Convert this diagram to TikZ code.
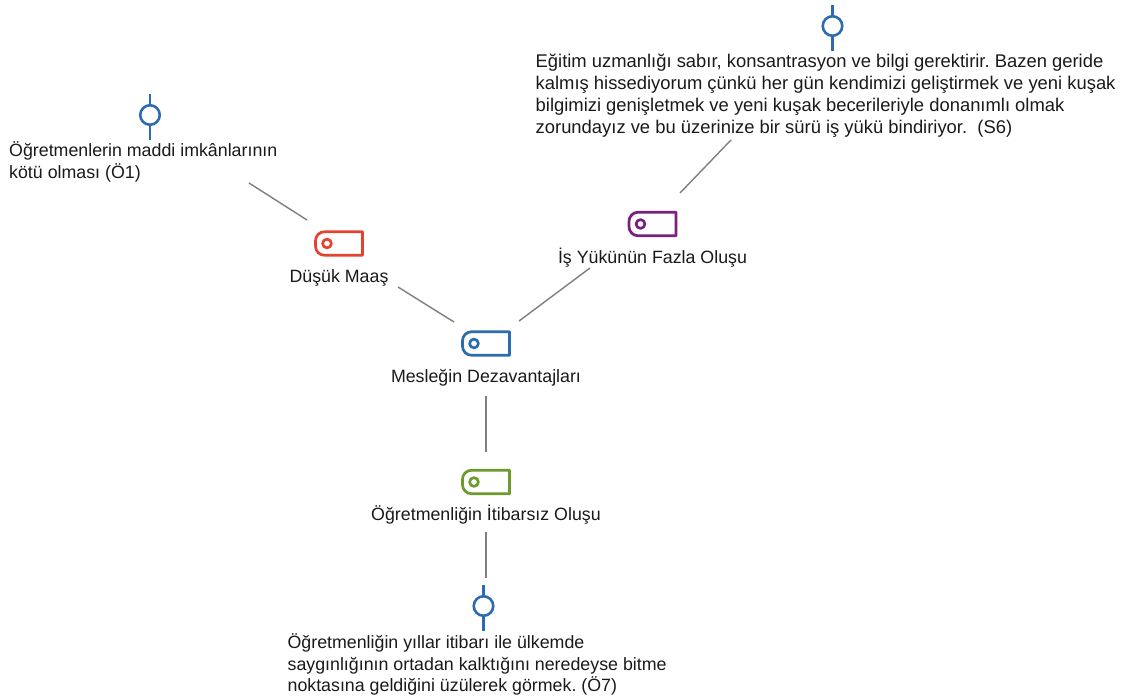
\documentclass[tikz,border=0pt]{standalone}
\usepackage{fontspec}
\setmainfont{Liberation Sans}
\usetikzlibrary{calc}
\frenchspacing

\definecolor{ink}{HTML}{1A1A1A}
\definecolor{linkgray}{HTML}{7F7F7F}
\definecolor{qblue}{HTML}{2D6BB0}
\definecolor{codeRed}{HTML}{E4432F}
\definecolor{codePurple}{HTML}{7A1F7E}
\definecolor{codeBlue}{HTML}{2D6BB0}
\definecolor{codeGreen}{HTML}{6A9B2C}

% code tag: rectangle with rounded left end and a small hole
\newcommand\drawtag[2]{%
  \draw[tagpath=#2] (#1.north east) -- (#1.south east)
    -- ([xshift=9pt]#1.south west) arc[start angle=270,end angle=180,radius=9pt]
    -- ([yshift=-9pt]#1.north west) arc[start angle=180,end angle=90,radius=9pt]
    -- cycle;
  \draw[tagpath=#2] ([xshift=-12pt]#1.center) circle[radius=4.4pt];}

% quote marker: ring with a stem above and below
\newcommand\drawstems[1]{%
  \draw[qstem] (#1.north) -- ++(0,-11);
  \draw[qstem] (#1.south) -- ++(0,15);}

\begin{document}
\begin{tikzpicture}[x=1pt,y=-1pt,
  txt/.style={inner sep=0pt, text=ink, font=\fontsize{17.8}{21.8}\selectfont},
  bigtxt/.style={txt, font=\fontsize{18.4}{21.8}\selectfont},
  tagbox/.style={minimum width=47pt, minimum height=23.5pt, inner sep=0pt, outer sep=0pt},
  tagpath/.style={line width=2.7pt, draw=#1, line join=round},
  qring/.style={circle, draw=qblue, line width=2.6pt, minimum size=19.5pt, inner sep=0pt, outer sep=0pt},
  qstem/.style={draw=qblue, line width=2.6pt},
  link/.style={draw=linkgray, line width=1.4pt}]

\fill[white] (0,0) rectangle (1140,698);

% quote markers
\node[qring] (q1) at (150,115) {};
\node[qring] (q2) at (832.5,26) {};
\node[qring] (q3) at (483.5,606) {};
\drawstems{q1}
\drawstems{q2}
\drawstems{q3}

% quotations
\node[txt, anchor=base west] (q1text) at (9,156.7)
  {\vtop{\hbox{Öğretmenlerin maddi imkânlarının}\hbox{kötü olması (Ö1)}}};
\node[bigtxt, anchor=base west] (q2text) at (535.5,67.7)
  {\vtop{\hbox{Eğitim uzmanlığı sabır, konsantrasyon ve bilgi gerektirir. Bazen geride}%
         \hbox{kalmış hissediyorum çünkü her gün kendimizi geliştirmek ve yeni kuşak}%
         \hbox{bilgimizi genişletmek ve yeni kuşak becerileriyle donanımlı olmak}%
         \hbox{zorundayız ve bu üzerinize bir sürü iş yükü bindiriyor.\ \ (S6)}}};
\node[txt, anchor=base west] (q3text) at (287.4,648.3)
  {\vtop{\hbox{Öğretmenliğin yıllar itibarı ile ülkemde}%
         \hbox{saygınlığının ortadan kalktığını neredeyse bitme}%
         \hbox{noktasına geldiğini üzülerek görmek. (Ö7)}}};

% codes
\node[tagbox] (tagR) at (339,243.5) {};
\node[tagbox] (tagP) at (652.5,224) {};
\node[tagbox] (tagB) at (486,343.5) {};
\node[tagbox] (tagG) at (486,482) {};
\drawtag{tagR}{codeRed}
\drawtag{tagP}{codePurple}
\drawtag{tagB}{codeBlue}
\drawtag{tagG}{codeGreen}

\node[txt, anchor=base] (labR) at ([yshift=-39pt]tagR.center) {Düşük Maaş};
\node[txt, anchor=base] (labP) at ([yshift=-39pt]tagP.center) {İş Yükünün Fazla Oluşu};
\node[txt, anchor=base] (labB) at ([yshift=-39pt]tagB.center) {Mesleğin Dezavantajları};
\node[txt, anchor=base] (labG) at ([yshift=-38pt]tagG.center) {Öğretmenliğin İtibarsız Oluşu};

% links
\draw[link] ([shift={(99,68)}]q1.center) -- ([shift={(-32,-23.5)}]tagR.center);
\draw[link] ([shift={(59,43.5)}]tagR.center) -- ([shift={(-32,-21.5)}]tagB.center);
\draw[link] ([shift={(33,-22.5)}]tagB.center) -- ([shift={(-62.5,44)}]tagP.center);
\draw[link] ([shift={(27.5,-31)}]tagP.center) -- ([shift={(-101.5,114)}]q2.center);
\draw[link] ([shift={(0,52.5)}]tagB.center) -- ([shift={(0,-30)}]tagG.center);
\draw[link] ([shift={(0,50)}]tagG.center) -- ([shift={(2.5,-28)}]q3.center);
\end{tikzpicture}
\end{document}
